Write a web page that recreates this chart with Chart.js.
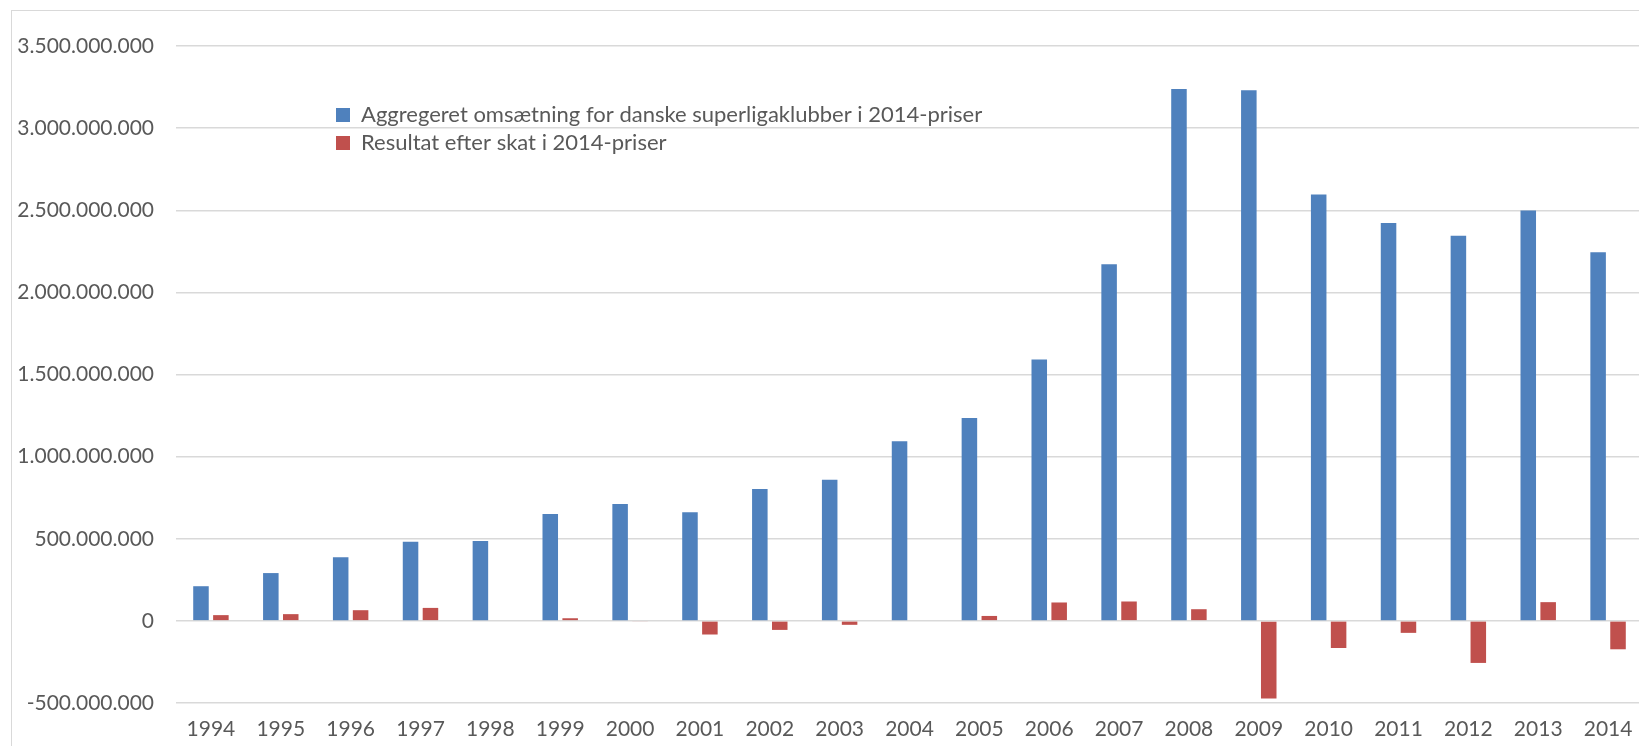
<!DOCTYPE html>
<html lang="da">
<head>
<meta charset="UTF-8">
<title>Superliga omsætning</title>
<script src="https://cdn.jsdelivr.net/npm/chart.js"></script>
<style>
  html, body { margin: 0; padding: 0; background: #fff; overflow: hidden; }
  #frame { position: absolute; left: 11px; top: 10px; width: 2000px; height: 2000px;
           border-left: 1.5px solid #d9d9d9; border-top: 1.5px solid #d9d9d9; }
  #wrap { position: absolute; left: 0; top: 0; width: 1660px; height: 746px; }
</style>
</head>
<body>
<div id="frame"></div>
<div id="wrap"><canvas id="chart"></canvas></div>
<script>
// data (kr.)
const years = ['1994','1995','1996','1997','1998','1999','2000','2001','2002','2003','2004',
               '2005','2006','2007','2008','2009','2010','2011','2012','2013','2014'];
const omsaetning = [211e6, 291e6, 388e6, 481e6, 486e6, 650e6, 711e6, 661e6, 803e6, 859e6, 1094e6,
                    1235e6, 1591e6, 2171e6, 3238e6, 3230e6, 2596e6, 2422e6, 2344e6, 2499e6, 2245e6];
const resultat = [35e6, 41e6, 65e6, 79e6, 0, 16e6, -5e6, -83e6, -55e6, -24e6, 0,
                  30e6, 112e6, 118e6, 71e6, -473e6, -165e6, -73e6, -256e6, 114e6, -173e6];
const yMin = -500e6, yMax = 3500e6, yStep = 500e6;

const labelA = 'Aggregeret omsætning for danske superligaklubber i 2014-priser';
const labelB = 'Resultat efter skat i 2014-priser';

function fmt(v) {
  const s = Math.abs(Math.round(v)).toString().replace(/\B(?=(\d{3})+(?!\d))/g, '.');
  return (v < 0 ? '-' : '') + s;
}

// move the in-chart legend to where it sits in the original
const legendShift = {
  id: 'legendShift',
  afterLayout(chart) {
    const lg = chart.legend;
    if (!lg) return;
    lg.left = 330;
    lg.top = 98;
  }
};

const font = { family: 'Lato', size: 21 };

new Chart(document.getElementById('chart'), {
  type: 'bar',
  data: {
    labels: years,
    datasets: [
      { label: labelA, data: omsaetning, backgroundColor: '#4F81BD', borderWidth: 0,
        barPercentage: 0.78, categoryPercentage: 0.57 },
      { label: labelB, data: resultat, backgroundColor: '#C0504D', borderWidth: 0,
        barPercentage: 0.78, categoryPercentage: 0.57 }
    ]
  },
  options: {
    responsive: true,
    maintainAspectRatio: false,
    animation: false,
    layout: { padding: { left: 0, right: 17, top: 46, bottom: 0 } },
    plugins: {
      tooltip: { enabled: false },
      legend: {
        position: 'chartArea',
        align: 'start',
        labels: {
          font: { family: 'Lato', size: 22 }, color: '#595959', boxWidth: 14, boxHeight: 14, padding: 6
        }
      }
    },
    scales: {
      x: {
        grid: { display: false, drawTicks: false },
        border: { display: false },
        ticks: { font: font, color: '#595959', padding: 14, maxRotation: 0, autoSkip: false },
        afterFit(s) { s.height = 43; }
      },
      y: {
        min: yMin, max: yMax,
        grid: { color: '#d9d9d9', lineWidth: 1.5, drawTicks: false },
        border: { display: false },
        ticks: { stepSize: yStep, font: font, color: '#595959', padding: 22,
                 callback: (v) => fmt(v) },
        afterFit(s) { s.width = 176; }
      }
    }
  },
  plugins: [legendShift]
});
</script>
</body>
</html>
